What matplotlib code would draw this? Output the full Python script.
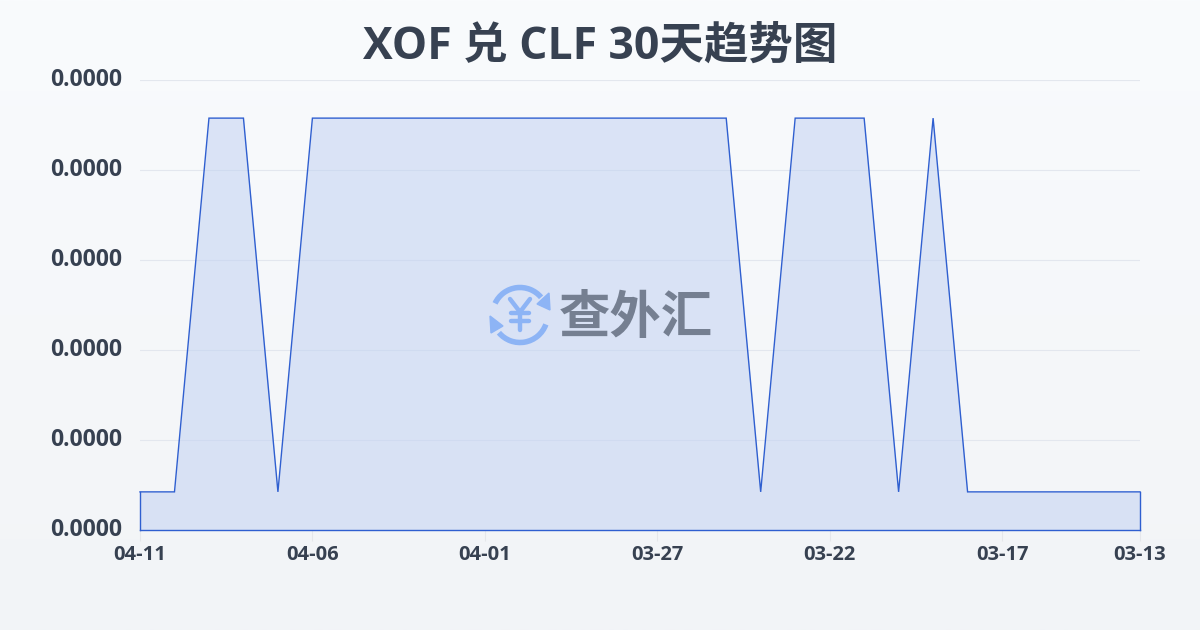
import matplotlib
matplotlib.use("Agg")
import matplotlib.pyplot as plt
from matplotlib.patches import Arc, Polygon
from matplotlib.transforms import ScaledTranslation
import numpy as np

# XOF / CLF 30 day trend, newest day on the left
dates = ["04-11", "04-10", "04-09", "04-08", "04-07", "04-06", "04-05", "04-04", "04-03", "04-02",
         "04-01", "03-31", "03-30", "03-29", "03-28", "03-27", "03-26", "03-25", "03-24", "03-23",
         "03-22", "03-21", "03-20", "03-19", "03-18", "03-17", "03-16", "03-15", "03-14", "03-13"]
rates = [0.00003, 0.00003, 0.00004, 0.00004, 0.00003, 0.00004, 0.00004, 0.00004, 0.00004, 0.00004,
         0.00004, 0.00004, 0.00004, 0.00004, 0.00004, 0.00004, 0.00004, 0.00004, 0.00003, 0.00004,
         0.00004, 0.00004, 0.00003, 0.00004, 0.00003, 0.00003, 0.00003, 0.00003, 0.00003, 0.00003]
y_ticks = [0.00002898, 0.00003139, 0.00003380, 0.00003620, 0.00003861, 0.00004102]
y_labels = ["0.0000"] * 6
x_tick_idx = [0, 5, 10, 15, 20, 25, 29]

title = "XOF 兑 CLF 30天趋势图"
CJK = ["Noto Sans CJK SC", "DejaVu Sans"]
LATIN = ["Open Sans", "Noto Sans CJK SC", "DejaVu Sans"]
TXT = "#374151"
LINE = "#2f5fd0"

W, H = 1200, 630
fig = plt.figure(figsize=(W / 100, H / 100), dpi=100)

# page background, soft vertical gradient
bg = fig.add_axes([0, 0, 1, 1], zorder=0)
bg.axis("off")
top_c = np.array(matplotlib.colors.to_rgb("#f9fbfd"))
bot_c = np.array(matplotlib.colors.to_rgb("#f2f4f7"))
grad = np.linspace(0, 1, 256)[:, None, None] * (bot_c - top_c)[None, None, :] + top_c
bg.imshow(grad, aspect="auto", extent=[0, 1, 0, 1])

ax = fig.add_axes([140 / W, 1 - 530 / H, 1000 / W, 450 / H], zorder=1)
ax.patch.set_alpha(0)
x = np.arange(len(dates))
ax.set_xlim(0, len(dates) - 1)
ax.set_ylim(y_ticks[0], y_ticks[-1])

ax.fill_between(x, rates, y_ticks[0], color="#c0d0f2", alpha=0.52, linewidth=0, zorder=2)
ax.plot(x, rates, color=LINE, lw=1.0, zorder=3, solid_joinstyle="miter", clip_on=False)
# box edge of the area series
ax.plot([0, 0], [y_ticks[0], rates[0]], color=LINE, lw=1.0, zorder=3, clip_on=False)
ax.plot([x[-1], x[-1]], [y_ticks[0], rates[-1]], color=LINE, lw=1.0, zorder=3, clip_on=False)
ax.plot([0, x[-1]], [y_ticks[0], y_ticks[0]], color=LINE, lw=1.0, zorder=3, clip_on=False)

ax.set_yticks(y_ticks)
ax.set_yticklabels(y_labels, fontsize=16.5, fontweight="bold", color=TXT, family=["Open Sans", "DejaVu Sans"])
ax.set_xticks(x[x_tick_idx])
ax.set_xticklabels([dates[i] for i in x_tick_idx], fontsize=14.5, fontweight="bold", color=TXT,
                   family=["Open Sans", "DejaVu Sans"])
ax.tick_params(axis="y", length=0, pad=13)
ax.tick_params(axis="x", length=8, width=0.8, color="#e5e7eb", pad=2.5)
# y labels sit a little above their grid lines
shift = ScaledTranslation(0, 2 / 72, fig.dpi_scale_trans)
for lab in ax.get_yticklabels():
    lab.set_transform(lab.get_transform() + shift)
ax.grid(axis="y", color="#e3e7ee", lw=0.8, zorder=1)
ax.set_axisbelow(True)
for s in ax.spines.values():
    s.set_visible(False)

fig.text(0.5, 1 - 47 / H, title, ha="center", va="center", fontsize=32, fontweight="bold",
         color=TXT, family=LATIN, zorder=5)

# watermark, drawn in pixel coordinates
wm = fig.add_axes([0, 0, 1, 1], zorder=4)
wm.axis("off")
wm.set_xlim(0, W)
wm.set_ylim(H, 0)
wm.patch.set_alpha(0)
BLUE = "#8db4f5"
cx, cy = 520, 315
wm.add_patch(Arc((cx, cy), 55, 55, theta1=205, theta2=320, color=BLUE, lw=4))
wm.add_patch(Arc((cx, cy), 55, 55, theta1=20, theta2=140, color=BLUE, lw=4))
wm.add_patch(Polygon([[537, 304], [549, 293], [550, 310]], color=BLUE))
wm.add_patch(Polygon([[490, 316], [491, 333], [503, 326]], color=BLUE))
# yen sign made of strokes, like the logo
wm.plot([510, 520, 530], [299, 312, 299], color=BLUE, lw=3.2, solid_capstyle="round")
wm.plot([520, 520], [312, 330], color=BLUE, lw=3.2, solid_capstyle="round")
wm.plot([511, 529], [313, 313], color=BLUE, lw=3.2, solid_capstyle="round")
wm.plot([511, 529], [321, 321], color=BLUE, lw=3.2, solid_capstyle="round")
wm.text(636, 317, "查外汇", ha="center", va="center", fontsize=37, fontweight="bold",
        color="#757f91", family=CJK)

fig.savefig("out.png", dpi=100)
